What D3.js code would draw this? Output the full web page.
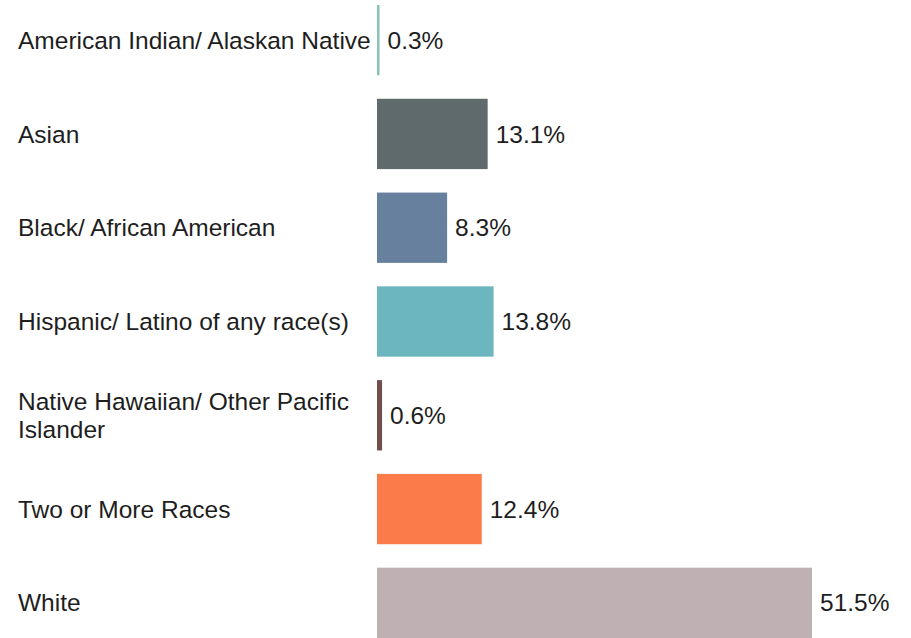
<!DOCTYPE html>
<html>
<head>
<meta charset="utf-8">
<script src="https://cdn.jsdelivr.net/npm/d3@7"></script>
<style>
  html, body { margin: 0; padding: 0; background: #fff; }
  svg { display: block; }
  .cat, .val { font-family: "Liberation Sans", Arial, sans-serif; font-size: 24.5px; fill: #1e1e1e; }
</style>
</head>
<body>
<div id="chart"></div>
<script>
"use strict";

var categories = [
  "American Indian/ Alaskan Native",
  "Asian",
  "Black/ African American",
  "Hispanic/ Latino of any race(s)",
  "Native Hawaiian/ Other Pacific Islander",
  "Two or More Races",
  "White"
];
var values = [0.3, 13.1, 8.3, 13.8, 0.6, 12.4, 51.5];
var colors = ["#8cc2b8", "#5f6a6c", "#66809e", "#6cb7bf", "#6e4f49", "#fb7c4a", "#bfb1b3"];

var width = 911;
var height = 638;

var svg = d3.select("#chart").append("svg")
  .attr("width", width)
  .attr("height", height);

var y = d3.scaleBand()
  .domain(categories)
  .range([5, 638])
  .paddingInner(0.25)
  .paddingOuter(0);

var x = d3.scaleLinear()
  .domain([0, 51.5])
  .range([377, 812]);

var rows = categories.map(function (c, i) {
  return { name: c, value: values[i], color: colors[i] };
});

svg.selectAll("rect.bar").data(rows).enter().append("rect")
  .attr("class", "bar")
  .attr("x", x(0))
  .attr("y", function (d) { return y(d.name); })
  .attr("width", function (d) { return Math.max(1.5, x(d.value) - x(0)); })
  .attr("height", y.bandwidth())
  .attr("fill", function (d) { return d.color; });

svg.selectAll("text.val").data(rows).enter().append("text")
  .attr("class", "val")
  .attr("x", function (d) { return Math.max(x(d.value), x(0) + 2) + 8; })
  .attr("y", function (d) { return y(d.name) + y.bandwidth() / 2; })
  .attr("dy", "0.35em")
  .text(function (d) { return d.value.toFixed(1) + "%"; });

// category labels, wrapped when too long
var maxW = 365;
var lineH = 28;
svg.selectAll("text.cat").data(rows).enter().append("text")
  .attr("class", "cat")
  .attr("x", 18)
  .each(function (d) {
    var t = d3.select(this);
    var words = d.name.split(" ");
    var lines = [];
    var cur = [];
    var probe = t.append("tspan");
    words.forEach(function (w) {
      var test = cur.concat([w]).join(" ");
      probe.text(test);
      if (probe.node().getComputedTextLength() > maxW && cur.length) {
        lines.push(cur.join(" "));
        cur = [w];
      } else {
        cur.push(w);
      }
    });
    lines.push(cur.join(" "));
    probe.remove();
    var cy = y(d.name) + y.bandwidth() / 2;
    var y0 = cy - (lines.length - 1) * lineH / 2;
    lines.forEach(function (l, k) {
      t.append("tspan")
        .attr("x", 18)
        .attr("y", y0 + k * lineH)
        .attr("dy", "0.35em")
        .text(l);
    });
  });
</script>
</body>
</html>
